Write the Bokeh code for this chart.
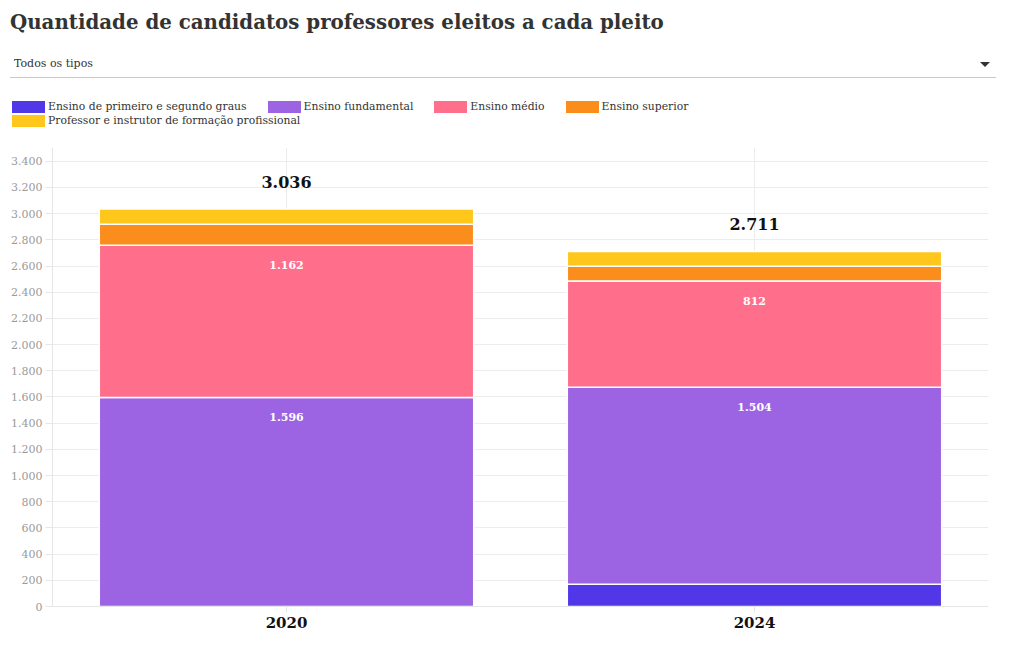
from bokeh.plotting import figure
from bokeh.models import (ColumnDataSource, Div, CustomJSTickFormatter, FixedTicker, Range1d)
from bokeh.layouts import column
from bokeh.embed import file_html
from bokeh.resources import INLINE
from bokeh.core.properties import value

# ---------------- data ----------------
years = ["2020", "2024"]
tipos = ["Ensino de primeiro e segundo graus", "Ensino fundamental", "Ensino médio",
         "Ensino superior", "Professor e instrutor de formação profissional"]
primeiro_segundo = [0, 170]
fundamental = [1596, 1504]
medio = [1162, 812]
superior = [161, 113]
instrutor = [117, 112]
y_ticks = [0, 200, 400, 600, 800, 1000, 1200, 1400, 1600, 1800, 2000, 2200, 2400,
           2600, 2800, 3000, 3200, 3400]
colors = ["#5038E8", "#9C63E2", "#FF6F8C", "#FB8D1D", "#FFC71C"]

FONT = "DejaVu Serif"


def fmt(v):
    return f"{v:,}".replace(",", ".")


keys = ["primeiro", "fundamental", "medio", "superior", "instrutor"]
series = [primeiro_segundo, fundamental, medio, superior, instrutor]
src = ColumnDataSource(dict(year=years, **{k: s for k, s in zip(keys, series)}))

# ---------------- header (title + dropdown + legend) ----------------
legend_items = "".join(
    "<span style=\"display:inline-block;white-space:nowrap;margin-right:21px;\">"
    f"<span style=\"display:inline-block;width:33px;height:12px;background:{c};"
    "vertical-align:middle;margin-right:3px;\"></span>"
    f"<span style=\"vertical-align:middle;\">{t}</span></span>"
    for t, c in zip(tipos, colors)
)
header_html = (
    f"<div style=\"font-family:'{FONT}',serif;font-weight:bold;font-size:19.8px;color:#333;"
    "line-height:28px;margin:8px 0 0 10px;white-space:nowrap;\">"
    "Quantidade de candidatos professores eleitos a cada pleito</div>"
    f"<div style=\"margin:16px 0 0 10px;width:986px;height:26px;border-bottom:1px solid #c8c8c8;"
    f"position:relative;font-family:'{FONT}',serif;font-size:11px;color:#333;line-height:24px;\">"
    "<span style=\"padding-left:4px\">Todos os tipos</span>"
    "<span style=\"position:absolute;right:6px;top:10px;width:0;height:0;"
    "border-left:5px solid transparent;border-right:5px solid transparent;"
    "border-top:5px solid #333;\"></span></div>"
    f"<div style=\"margin:22px 0 0 12px;width:720px;font-family:'{FONT}',serif;font-size:10.8px;"
    f"color:#333;line-height:14px;\">{legend_items}</div>"
)
header = Div(text=header_html, width=1000, height=138, margin=0)

# ---------------- figure ----------------
p = figure(x_range=years, y_range=Range1d(0, 3505), width=998, height=502,
           output_backend="svg", toolbar_location=None,
           min_border_left=52, min_border_right=10, min_border_top=9, min_border_bottom=34)

renderers = p.vbar_stack(keys, x="year", width=0.8, color=colors, line_color="white",
                         line_width=1.5, source=src)

# segment labels (large segments only)
lx, ly, lt = [], [], []
bottom = [0, 0]
for s in series:
    for i, yr in enumerate(years):
        top = bottom[i] + s[i]
        if s[i] > 300:
            lx.append(yr)
            ly.append(top)
            lt.append(fmt(s[i]))
        bottom[i] = top
p.text(x="x", y="y", text="t", source=ColumnDataSource(dict(x=lx, y=ly, t=lt)),
       text_font=value(FONT), text_font_style="bold", text_font_size="11px",
       text_color="white", text_align="center", text_baseline="middle", y_offset=20)

totals = [sum(s[i] for s in series) for i in range(len(years))]
p.text(x=years, y=totals, text=[fmt(t) for t in totals],
       text_font=value(FONT), text_font_style="bold", text_font_size="16px",
       text_color="#111111", text_align="center", text_baseline="middle", y_offset=-27)

# axes
p.yaxis.ticker = FixedTicker(ticks=y_ticks)
p.yaxis.formatter = CustomJSTickFormatter(
    code="return tick.toFixed(0).replace(/\\B(?=(\\d{3})+(?!\\d))/g, '.');")
p.yaxis.major_label_text_font = FONT
p.yaxis.major_label_text_font_size = "11px"
p.yaxis.major_label_text_color = "#9a9a9a"
p.yaxis.axis_line_color = "#e6e6e6"
p.yaxis.major_tick_line_color = "#e6e6e6"
p.yaxis.major_tick_out = 7
p.yaxis.major_tick_in = 0
p.yaxis.minor_tick_line_color = None
p.yaxis.major_label_standoff = 3

p.xaxis.major_label_text_font = FONT
p.xaxis.major_label_text_font_size = "15px"
p.xaxis.major_label_text_font_style = "bold"
p.xaxis.major_label_text_color = "#111111"
p.xaxis.axis_line_color = "#e6e6e6"
p.xaxis.major_tick_line_color = "#e6e6e6"
p.xaxis.major_tick_out = 6
p.xaxis.major_tick_in = 0
p.xaxis.major_label_standoff = 4

p.ygrid.grid_line_color = "#ececec"
p.xgrid.grid_line_color = "#ececec"
p.outline_line_color = None

layout = column(header, p, spacing=0)
open("out.html", "w").write(file_html(layout, INLINE))
